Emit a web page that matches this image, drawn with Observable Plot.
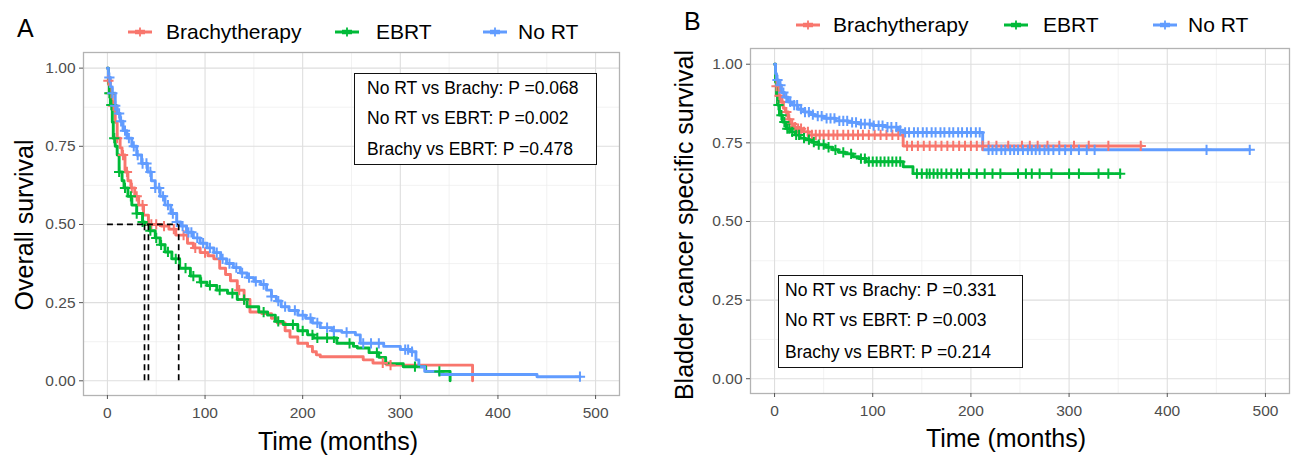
<!DOCTYPE html>
<html>
<head>
<meta charset="utf-8">
<script src="https://cdn.jsdelivr.net/npm/d3@7"></script>
<script src="https://cdn.jsdelivr.net/npm/@observablehq/plot@0.6"></script>
<style>
  body { margin: 0; background: #fff; }
  #root { position: relative; width: 1296px; height: 456px; overflow: hidden; font-family: "Liberation Sans", Arial, sans-serif; color: #000; }
  .abs { position: absolute; white-space: nowrap; }
</style>
</head>
<body>
<div id="root"></div>
<script>
// ---------- data ----------
const groups = ["Brachytherapy", "EBRT", "No RT"];
const colors = ["#F8766D", "#00BA38", "#619CFF"];
const xTicks = [0, 100, 200, 300, 400, 500];
const xMinor = [50, 150, 250, 350, 450];
const yTicks = [0, 0.25, 0.5, 0.75, 1];
const yMinor = [0.125, 0.375, 0.625, 0.875];

// Panel A: overall survival, [time, survival]
const osBrachy = [[0,1],[1,0.96],[3,0.92],[5,0.88],[8,0.827],[10,0.776],[13,0.745],[15,0.722],[18,0.668],[21,0.64],[24,0.617],[28,0.59],[32,0.562],[37,0.53],[42,0.5],[55,0.495],[63,0.485],[70,0.466],[82,0.44],[88,0.425],[95,0.41],[103,0.4],[109,0.39],[115,0.36],[121,0.34],[126,0.32],[133,0.29],[140,0.26],[146,0.22],[158,0.215],[168,0.2],[174,0.185],[182,0.16],[187,0.14],[195,0.12],[205,0.11],[210,0.093],[214,0.083],[218,0.077],[262,0.067],[272,0.057],[290,0.05],[374,0]];
const osEBRT = [[0,1],[1,0.95],[2,0.92],[3,0.882],[5,0.827],[6,0.776],[8,0.75],[10,0.722],[12,0.668],[15,0.64],[17,0.617],[21,0.59],[25,0.562],[30,0.535],[36,0.508],[38,0.5],[43,0.48],[49,0.457],[54,0.435],[59,0.412],[66,0.39],[74,0.36],[85,0.335],[95,0.315],[102,0.305],[112,0.29],[123,0.28],[133,0.26],[143,0.237],[155,0.22],[164,0.21],[172,0.19],[180,0.18],[195,0.16],[205,0.147],[211,0.137],[235,0.12],[252,0.11],[256,0.105],[268,0.09],[278,0.075],[285,0.055],[303,0.045],[326,0.03],[351,0]];
const osNoRT = [[0,1],[1,0.97],[3,0.94],[5,0.92],[8,0.88],[10,0.855],[13,0.83],[16,0.8],[20,0.776],[25,0.75],[30,0.722],[35,0.695],[41,0.668],[45,0.64],[49,0.617],[54,0.59],[59,0.562],[65,0.535],[71,0.508],[75,0.495],[81,0.475],[88,0.457],[95,0.44],[102,0.425],[109,0.41],[116,0.39],[122,0.375],[129,0.362],[136,0.345],[143,0.33],[150,0.318],[157,0.308],[163,0.29],[168,0.27],[173,0.255],[178,0.237],[186,0.225],[195,0.21],[203,0.2],[210,0.185],[218,0.17],[230,0.16],[240,0.155],[254,0.147],[259,0.12],[283,0.11],[300,0.1],[311,0.093],[316,0.067],[319,0.045],[325,0.03],[340,0.02],[440,0.013],[484,0.013]];
const osCensBrachy = [1,3,6,10,16,20,25,30,36,45,50,58,68,78,90,100,135,140,282,290];
const osCensEBRT = [2,4,7,12,18,24,30,36,44,50,55,62,70,80,88,96,105,115,128,140,160,175,190,200,210,215,225,232,248,276,315,340];
const osCensNoRT = [2,5,8,12,14,18,22,27,31,36,40,44,49,53,57,62,67,71,77,83,86,92,98,105,112,118,125,132,138,145,152,160,168,175,182,192,200,208,215,225,232,245,262,270,278,305,308,312,484];
const osMedians = [38, 42, 73];
const osPvals = ["No RT vs Brachy: P =0.068", "No RT vs EBRT: P =0.002", "Brachy vs EBRT: P =0.478"];

// Panel B: bladder cancer specific survival
const cssBrachy = [[0,1],[1,0.96],[2,0.93],[4,0.9],[6,0.88],[9,0.86],[11,0.848],[14,0.825],[16,0.81],[20,0.8],[23,0.795],[28,0.785],[35,0.775],[131,0.74],[374,0.74]];
const cssEBRT = [[0,1],[1,0.943],[2,0.9],[3,0.87],[5,0.838],[8,0.816],[12,0.795],[16,0.785],[21,0.775],[26,0.765],[31,0.76],[38,0.752],[45,0.744],[52,0.736],[59,0.728],[65,0.72],[72,0.715],[80,0.706],[86,0.7],[93,0.69],[131,0.674],[141,0.652],[352,0.652]];
const cssNoRT = [[0,1],[1,0.97],[2,0.95],[4,0.933],[7,0.91],[10,0.895],[14,0.88],[18,0.87],[24,0.857],[30,0.848],[36,0.84],[41,0.835],[50,0.828],[62,0.82],[75,0.815],[86,0.81],[100,0.805],[113,0.8],[126,0.79],[131,0.783],[212,0.728],[484,0.728]];
const cssCensBrachy = [2,5,8,12,15,18,21,24,27,30,34,38,42,46,50,55,60,64,70,75,80,85,90,96,102,108,114,120,126,135,140,146,152,158,164,170,176,182,188,194,200,206,212,218,226,238,252,260,268,278,290,305,320,340,373];
const cssCensEBRT = [4,7,10,13,15,18,22,25,30,35,40,45,50,55,62,70,78,88,92,96,100,104,108,112,116,120,124,128,145,150,155,158,162,166,170,175,180,186,190,198,206,214,222,230,248,256,262,270,282,300,310,330,340,352];
const cssCensNoRT = [3,6,9,12,16,20,23,27,31,35,39,44,48,53,57,61,66,70,74,79,83,88,92,97,101,106,110,115,119,124,128,133,137,142,146,151,155,160,164,169,173,178,182,187,191,196,200,205,209,218,222,226,231,235,240,244,248,253,258,262,266,270,275,279,284,290,296,302,310,318,326,440,484];
const cssPvals = ["No RT vs Brachy: P =0.331", "No RT vs EBRT: P =0.003", "Brachy vs EBRT: P =0.214"];

// ---------- helpers ----------
function survAt(curve, t) {
  let s = curve[0][1];
  for (const [ti, si] of curve) { if (ti <= t) s = si; else break; }
  return s;
}
function lineRows(curves) {
  const rows = [];
  curves.forEach((c, i) => c.forEach(([t, s]) => rows.push({g: groups[i], t, s})));
  return rows;
}
function censorRows(curves, cens) {
  const rows = [];
  cens.forEach((arr, i) => arr.forEach(t => rows.push({g: groups[i], t, s: survAt(curves[i], t)})));
  return rows;
}

const FONT = "Liberation Sans, Arial, sans-serif";

function kmPlot({curves, cens, width, ml, mr, mt, mb, extra = []}) {
  return Plot.plot({
    width, height: 456,
    marginLeft: ml, marginRight: mr, marginTop: mt, marginBottom: mb,
    style: {fontFamily: FONT, background: "transparent", overflow: "visible"},
    x: {domain: [-24.5, 524.5], label: null},
    y: {domain: [-0.047, 1.05], label: null},
    color: {domain: groups, range: colors},
    marks: [
      Plot.gridX(xMinor, {stroke: "#ececec", strokeOpacity: 1, strokeWidth: 0.7}),
      Plot.gridY(yMinor, {stroke: "#ececec", strokeOpacity: 1, strokeWidth: 0.7}),
      Plot.gridX(xTicks, {stroke: "#dedede", strokeOpacity: 1, strokeWidth: 1.1}),
      Plot.gridY(yTicks, {stroke: "#dedede", strokeOpacity: 1, strokeWidth: 1.1}),
      Plot.frame({stroke: "#b3b3b3", strokeWidth: 1.3}),
      Plot.axisX(xTicks, {tickSize: 4, tickPadding: 7, fontSize: 15.5, stroke: "#555", fill: "#4d4d4d", label: null}),
      Plot.axisY(yTicks, {tickSize: 4, tickPadding: 4, fontSize: 15.5, stroke: "#555", fill: "#4d4d4d", tickFormat: d3.format(".2f"), label: null}),
      Plot.line(lineRows(curves), {x: "t", y: "s", z: "g", stroke: "g", curve: "step-after", strokeWidth: 2.9}),
      Plot.dot(censorRows(curves, cens), {x: "t", y: "s", stroke: "g", symbol: "plus", r: 3.4, strokeWidth: 2}),
      ...extra
    ]
  });
}

const root = document.getElementById("root");
function place(el, css) { el.classList.add("abs"); Object.assign(el.style, css); root.appendChild(el); return el; }
function textDiv(txt, css) { const d = document.createElement("div"); d.textContent = txt; return place(d, css); }

// ---------- panel A ----------
const plotA = kmPlot({
  curves: [osBrachy, osEBRT, osNoRT],
  cens: [osCensBrachy, osCensEBRT, osCensNoRT],
  width: 645, ml: 83, mr: 26, mt: 52, mb: 61,
  extra: [
    Plot.ruleY([0.5], {x1: 0, x2: d3.max(osMedians), stroke: "#000", strokeWidth: 1.7, strokeDasharray: "6,4"}),
    Plot.ruleX(osMedians, {y1: 0, y2: 0.5, stroke: "#000", strokeWidth: 1.7, strokeDasharray: "6,4"})
  ]
});
place(plotA, {left: "0px", top: "0px"});

// ---------- panel B ----------
const plotB = kmPlot({
  curves: [cssBrachy, cssEBRT, cssNoRT],
  cens: [cssCensBrachy, cssCensEBRT, cssCensNoRT],
  width: 646, ml: 100, mr: 7, mt: 48, mb: 63
});
place(plotB, {left: "650px", top: "0px"});

// ---------- labels ----------
textDiv("A", {left: "17px", top: "13px", fontSize: "25px", lineHeight: "30px", height: "30px"});
textDiv("B", {left: "684px", top: "6px", fontSize: "25px", lineHeight: "30px", height: "30px"});

function yLabel(txt, cx, cy) {
  textDiv(txt, {left: cx + "px", top: cy + "px", fontSize: "25px", lineHeight: "30px",
    transform: "translate(-50%,-50%) rotate(-90deg)"});
}
function xLabel(txt, cx, cy) {
  textDiv(txt, {left: cx + "px", top: cy + "px", fontSize: "25px", lineHeight: "30px",
    transform: "translate(-50%,-50%)"});
}
yLabel("Overall survival", 24, 225);
yLabel("Bladder cancer specific survival", 684, 225);
xLabel("Time (months)", 338, 441);
xLabel("Time (months)", 1006, 438);

// legends
function legend(items, cy) {
  items.forEach(({key, text}, i) => {
    const svg = document.createElementNS("http://www.w3.org/2000/svg", "svg");
    svg.setAttribute("width", 26); svg.setAttribute("height", 14);
    svg.innerHTML = `<line x1="1" y1="7" x2="25" y2="7" stroke="${colors[i]}" stroke-width="3"/>` +
      `<line x1="13" y1="2.5" x2="13" y2="11.5" stroke="${colors[i]}" stroke-width="1.8"/>` +
      `<line x1="8" y1="7" x2="18" y2="7" stroke="${colors[i]}" stroke-width="4.5"/>`;
    place(svg, {left: key + "px", top: (cy - 7) + "px"});
    textDiv(groups[i], {left: text + "px", top: (cy - 14) + "px", fontSize: "21px", lineHeight: "28px", height: "28px"});
  });
}
legend([{key: 127, text: 166}, {key: 334, text: 376}, {key: 482, text: 518}], 32);
legend([{key: 795, text: 833}, {key: 1003, text: 1043}, {key: 1152, text: 1188}], 25);

// p-value boxes
function pBox(lines, left, top, w, h, pad, centers) {
  const box = document.createElement("div");
  place(box, {left: left + "px", top: top + "px", width: w + "px", height: h + "px",
    border: "1.6px solid #111", boxSizing: "border-box", background: "#fff"});
  lines.forEach((t, i) => textDiv(t, {left: (left + pad) + "px", top: (top + centers[i] - 11) + "px",
    fontSize: "17.5px", lineHeight: "22px", height: "22px"}));
}
pBox(osPvals, 354, 73, 243, 92, 13, [15, 45, 76]);
pBox(cssPvals, 778, 275, 245, 93, 7, [15, 45, 77]);
</script>
</body>
</html>
